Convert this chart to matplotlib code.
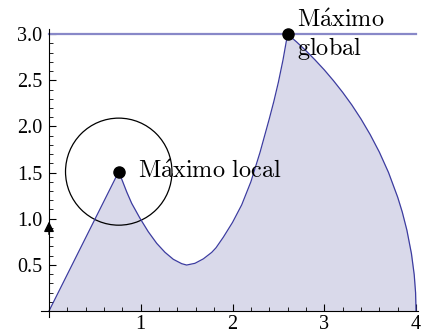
import numpy as np
import matplotlib
matplotlib.use("Agg")
import matplotlib.pyplot as plt
from matplotlib.ticker import FixedLocator

plt.rcParams['font.family'] = ['Liberation Serif', 'DejaVu Serif']
plt.rcParams['mathtext.fontset'] = 'cm'

# points
curve_x = [0, 0.76, 0.792, 0.847, 0.901, 0.992, 1.082, 1.174, 1.264, 1.355, 1.446,
           1.50, 1.591, 1.682, 1.773, 1.82, 1.90, 2.00, 2.10, 2.20, 2.30, 2.40,
           2.45, 2.50, 2.55, 2.575, 2.60,
           2.70, 2.80, 2.90, 3.00, 3.10, 3.20, 3.30, 3.40, 3.50, 3.60, 3.70, 3.80,
           3.85, 3.90, 3.95, 3.98, 3.995, 4.0]
curve_y = [0, 1.51, 1.43, 1.29, 1.167, 1.004, 0.859, 0.733, 0.636, 0.560, 0.513,
           0.498, 0.517, 0.565, 0.635, 0.685, 0.80, 0.96, 1.15, 1.40, 1.72, 2.08,
           2.27, 2.48, 2.72, 2.86, 3.0,
           2.914, 2.821, 2.72, 2.613, 2.496, 2.37, 2.233, 2.081, 1.912, 1.722, 1.501,
           1.233, 1.072, 0.877, 0.621, 0.394, 0.198, 0]

# maxima
max_x = [0.76, 2.60]
max_y = [1.51, 3.0]
global_level = 3.0

xticks = [1, 2, 3, 4]
yticks = [0.5, 1.0, 1.5, 2.0, 2.5, 3.0]

fig = plt.figure(figsize=(4.31, 3.35), dpi=100)
ax = fig.add_axes([0, 0, 1, 1])
ax.set_xlim(-0.534, 4.163)
ax.set_ylim(-0.26, 3.37)

ax.fill_between(curve_x, curve_y, color='#d9d9ea', lw=0)
ax.plot(curve_x, curve_y, color='#3c3ca0', lw=0.9)
ax.plot([0, 4], [global_level, global_level], color='#8888c8', lw=1.6)

circ = plt.Circle((max_x[0], max_y[0]), 0.58, fill=False, color='black', lw=0.9)
ax.add_patch(circ)
ax.plot(max_x, max_y, 'o', color='black', ms=8, zorder=5)

ax.text(0.97, 1.515, r'$\mathrm{M\acute{a}ximo\ local}$', va='center', fontsize=17.5)
ax.text(2.70, 3.08, r'$\mathrm{M\acute{a}ximo}$', va='baseline', fontsize=17.5)
ax.text(2.70, 2.77, r'$\mathrm{global}$', va='baseline', fontsize=17.5)

# axes style mathematica
for s in ['top', 'right']:
    ax.spines[s].set_visible(False)
ax.spines['left'].set_position(('data', 0))
ax.spines['bottom'].set_position(('data', 0))
ax.spines['left'].set_bounds(-0.06, 3.06)
ax.spines['bottom'].set_bounds(-0.09, 4.02)
ax.set_xticks(xticks)
ax.set_yticks(yticks)
ax.set_yticklabels(["%.1f" % v for v in yticks])
xminor = [v for v in np.arange(0.2, 3.9, 0.2) if abs(v - round(v)) > 0.01]
yminor = [v for v in np.arange(0.1, 3.0, 0.1) if abs(v * 2 - round(v * 2)) > 0.01]
ax.xaxis.set_minor_locator(FixedLocator(xminor))
ax.yaxis.set_minor_locator(FixedLocator(yminor))
ax.tick_params(which='both', direction='in', labelsize=14.5)
ax.tick_params(which='major', length=5, width=0.8)
ax.tick_params(which='minor', length=3, width=0.6)
ax.tick_params(axis='x', pad=3)
ax.tick_params(axis='y', pad=5)

# petite fleche sur l'axe y
ax.annotate('', xy=(0, 1.0), xytext=(0, 0.8),
            arrowprops=dict(arrowstyle='-|>', color='black', lw=1, mutation_scale=15))

fig.savefig("out.png", dpi=100)
